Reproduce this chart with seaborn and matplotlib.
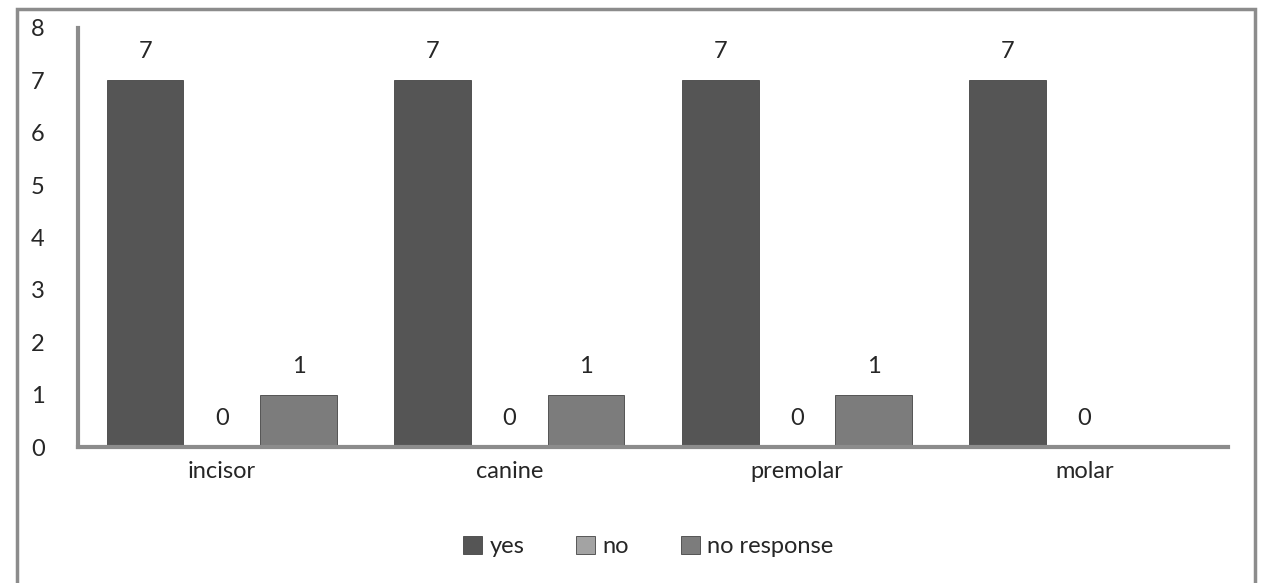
import pandas as pd
import seaborn as sns
import matplotlib.pyplot as plt
from matplotlib.patches import Rectangle
import numpy as np

categories = ["incisor", "canine", "premolar", "molar"]
series = ["yes", "no", "no response"]
yes_vals = [7, 7, 7, 7]
no_vals = [0, 0, 0, 0]
noresp_vals = [1, 1, 1, np.nan]  # molar has no "no response" bar

colors = {"yes": "#555555", "no": "#a3a3a3", "no response": "#7c7c7c"}

rows = []
for s, vals in zip(series, [yes_vals, no_vals, noresp_vals]):
    for c, v in zip(categories, vals):
        if not np.isnan(v):
            rows.append({"tooth": c, "answer": s, "count": v})
df = pd.DataFrame(rows)

sns.set_style("white")
plt.rcParams["font.family"] = ["Lato", "DejaVu Sans"]

fig = plt.figure(figsize=(12.71, 5.83), dpi=100)
ax = fig.add_axes([0.0614, 0.233, 0.905, 0.719])

sns.barplot(data=df, x="tooth", y="count", hue="answer", order=categories,
            hue_order=series, palette=colors, width=0.8, saturation=1,
            edgecolor="#444444", linewidth=0.6, ax=ax, legend=False)

for cont in ax.containers:
    ax.bar_label(cont, fmt="%d", padding=13, fontsize=17)

ax.set_ylim(0, 8)
ax.set_xlim(-0.5, 3.5)
ax.set_yticks(range(9))
ax.set_xlabel("")
ax.set_ylabel("")
ax.tick_params(axis="both", length=0, labelsize=17)
ax.tick_params(axis="y", pad=24)
ax.tick_params(axis="x", pad=10)
sns.despine(ax=ax, top=True, right=True)
for side in ["left", "bottom"]:
    ax.spines[side].set_color("#8c8c8c")
    ax.spines[side].set_linewidth(3)

handles = [Rectangle((0, 0), 1, 1, facecolor=colors[s], edgecolor="#444444", linewidth=0.6)
           for s in series]
fig.legend(handles, series, loc="center", bbox_to_anchor=(0.51, 0.063), ncol=3,
           frameon=False, fontsize=17, handlelength=0.8, handleheight=0.8,
           handletextpad=0.3, columnspacing=2.2)

# outer chart frame
fig.patches.append(Rectangle((0.0134, -0.02), 0.974, 1.004, transform=fig.transFigure,
                             fill=False, edgecolor="#8c8c8c", linewidth=2.5))

fig.savefig("out.png", dpi=100)
